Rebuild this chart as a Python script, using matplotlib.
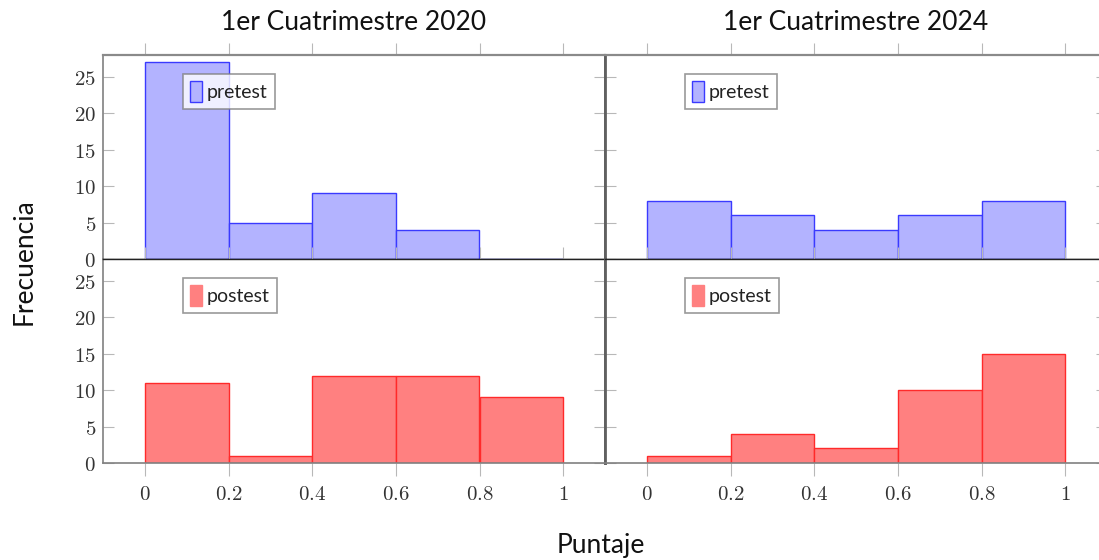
import matplotlib
matplotlib.use("Agg")
import matplotlib.pyplot as plt
from matplotlib.ticker import FuncFormatter
from matplotlib.patches import Patch

plt.rcParams['mathtext.fontset'] = 'cm'

# Data
bin_edges = [0.0, 0.2, 0.4, 0.6, 0.8, 1.0]
pre_2020 = [27, 5, 9, 4, 0]
post_2020 = [11, 1, 12, 12, 9]
pre_2024 = [8, 6, 4, 6, 8]
post_2024 = [1, 4, 2, 10, 15]
titles = ["1er Cuatrimestre 2020", "1er Cuatrimestre 2024"]
series_labels = ["pretest", "postest"]
xticks = [0, 0.2, 0.4, 0.6, 0.8, 1]
yticks = [0, 5, 10, 15, 20, 25]

blue_fill, blue_edge = '#b3b3ff', '#3a3aff'
red_fill, red_edge = '#ff8080', '#ff2a2a'
spine_col = '#808080'
sans = ['Lato', 'DejaVu Sans']

fig = plt.figure(figsize=(10.99, 5.60), dpi=100)
W, H = 1099, 560
def ax_at(x0, y0, x1, y1):
    return fig.add_axes([x0 / W, 1 - y1 / H, (x1 - x0) / W, (y1 - y0) / H])

axes = [[ax_at(103, 55, 605, 259), ax_at(605, 55, 1107, 259)],
        [ax_at(103, 259, 605, 463), ax_at(605, 259, 1107, 463)]]
data = [[pre_2020, pre_2024], [post_2020, post_2024]]
fills = [(blue_fill, blue_edge), (red_fill, red_edge)]

tick_fmt = FuncFormatter(lambda v, p: f'${v:g}$')

for r in range(2):
    for c in range(2):
        ax = axes[r][c]
        vals = data[r][c]
        fc, ec = fills[r]
        lefts = bin_edges[:-1]
        widths = [bin_edges[i + 1] - bin_edges[i] for i in range(len(vals))]
        ax.bar(lefts, vals, width=widths, align='edge', color=fc, edgecolor=ec, linewidth=1.0)
        ax.set_xlim(-0.1, 1.1)
        ax.set_ylim(0, 28)
        ax.set_xticks(xticks)
        ax.set_yticks(yticks)
        ax.xaxis.set_major_formatter(tick_fmt)
        ax.yaxis.set_major_formatter(tick_fmt)
        ax.tick_params(axis='x', direction='out', length=9, width=0.8, color='#b8b8b8',
                       top=True, bottom=True, labelbottom=(r == 1), labelsize=15, pad=6,
                       labelcolor='#333333')
        ax.tick_params(axis='y', direction='in', length=8, width=0.8, color='#b8b8b8',
                       left=True, right=True, labelleft=(c == 0), labelsize=15, pad=5,
                       labelcolor='#333333')
        for s in ax.spines.values():
            s.set_color(spine_col)
            s.set_linewidth(1.2)
        if r == 0:
            ax.spines['bottom'].set_color('#222222')
            ax.spines['bottom'].set_linewidth(1.0)
            ax.spines['top'].set_linewidth(1.6)
            ax.spines['top'].set_color('#8a8a8a')
        else:
            ax.spines['top'].set_color('#222222')
            ax.spines['top'].set_linewidth(1.0)
        if c == 0:
            ax.spines['right'].set_color('#606060')
            ax.spines['right'].set_linewidth(2.0)
        else:
            ax.spines['left'].set_color('#606060')
            ax.spines['left'].set_linewidth(2.0)
        handle = Patch(facecolor=fc, edgecolor=ec if r == 0 else fc, linewidth=1.0)
        leg = ax.legend([handle], [series_labels[r]], loc='upper left',
                        bbox_to_anchor=(0.159, 0.905), frameon=True, fancybox=False,
                        handlelength=0.65, handleheight=1.3, handletextpad=0.25,
                        borderpad=0.35, borderaxespad=0,
                        prop={'family': sans, 'size': 14})
        leg.get_frame().set_edgecolor('#808080')
        leg.get_frame().set_linewidth(1.2)
        for t in leg.get_texts():
            t.set_color('#222222')

fig.text(354 / W, 1 - 22 / H, titles[0], ha='center', va='center', family=sans, fontsize=19, color='#111111')
fig.text(856 / W, 1 - 22 / H, titles[1], ha='center', va='center', family=sans, fontsize=19, color='#111111')
fig.text(24 / W, 1 - 262 / H, "Frecuencia", ha='center', va='center', rotation=90, family=sans, fontsize=19, color='#111111')
fig.text(601 / W, 1 - 546 / H, "Puntaje", ha='center', va='center', family=sans, fontsize=19, color='#111111')

fig.savefig('out.png', dpi=100)
